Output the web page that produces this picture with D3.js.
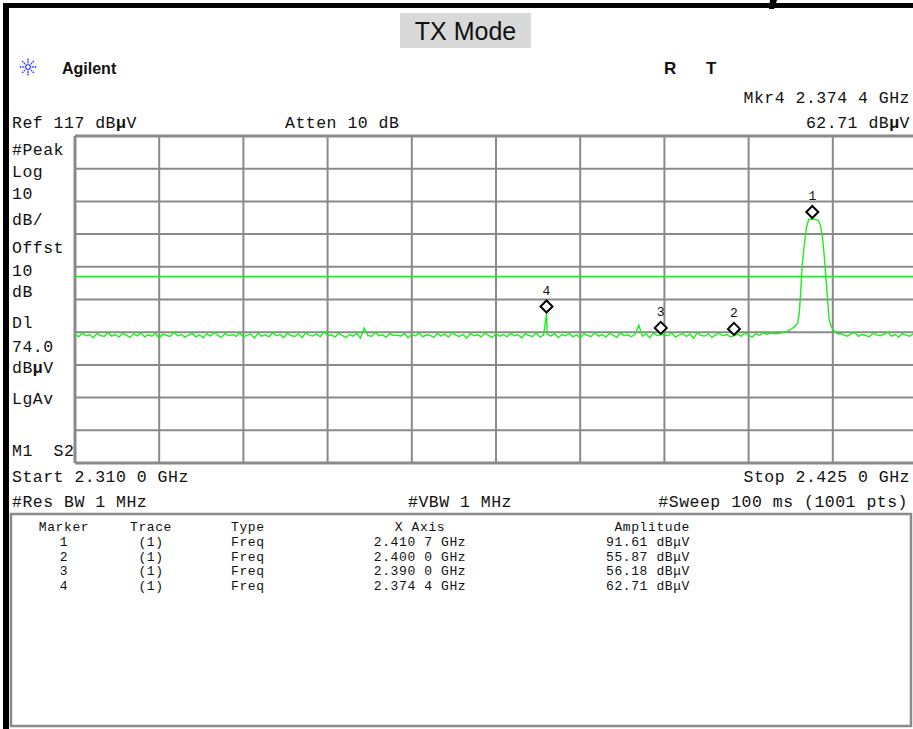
<!DOCTYPE html>
<html>
<head>
<meta charset="utf-8">
<script src="https://cdn.jsdelivr.net/npm/d3@7"></script>
<style>
  body { margin: 0; background: #fff; }
  svg { display: block; }
  .mono { font-family: "Liberation Mono", "DejaVu Sans Mono", monospace; font-size: 16.5px; letter-spacing: 0.5px; fill: #111; }
  .tbl { font-family: "Liberation Mono", "DejaVu Sans Mono", monospace; font-size: 13px; letter-spacing: 0.6px; fill: #111; }
  .sans { font-family: "Liberation Sans", Arial, sans-serif; fill: #111; }
</style>
</head>
<body>
<div id="container"></div>
<script>
// sweep settings
const startGHz = 2.310;
const stopGHz = 2.425;
const refLevel = 117;
const dbPerDiv = 10;
const displayLine = 74.0;

// noise floor, evenly spaced every 0.5 MHz from start to stop (231 pts)
const noiseDb = [
  56.4, 55.6, 56.8, 55.9, 56.2, 55.3, 56.6, 56.0, 55.7, 56.9, 55.8, 56.3, 55.5, 56.7, 56.1, 55.4, 56.5, 55.9, 56.8, 55.6,
  56.2, 55.8, 56.6, 55.2, 56.4, 56.0, 55.7, 57.0, 55.9, 56.3, 55.5, 56.1, 56.7, 55.6, 56.2, 55.3, 56.5, 55.8, 56.9, 56.0,
  55.4, 56.6, 55.9, 56.3, 55.7, 56.8, 55.5, 56.1, 56.4, 55.2, 56.7, 55.8, 56.2, 55.6, 56.9, 55.9, 56.3, 55.4, 56.6, 56.0,
  55.7, 56.5, 55.3, 56.8, 56.1, 55.8, 56.4, 55.6, 57.1, 55.9, 56.2, 55.5, 56.7, 56.0, 55.4, 56.3, 55.8, 56.6, 55.2, 58.3,
  56.0, 55.7, 56.9, 55.9, 56.2, 55.5, 56.5, 56.0, 56.1, 55.8, 56.6, 55.3, 56.3, 55.9, 56.8, 55.6, 56.2, 56.0, 55.4, 56.7,
  55.8, 56.4, 55.5, 56.9, 56.1, 55.7, 56.3, 55.2, 56.6, 55.9, 56.2, 55.6, 56.8, 56.0, 55.4, 56.5, 55.8, 56.3, 55.6, 56.7,
  55.9, 56.2, 55.3, 56.6, 56.0, 55.7, 56.8, 55.5, 56.1, 56.4, 55.8, 56.6, 55.4, 56.3, 55.9, 56.7, 55.6, 56.2, 55.3, 56.5,
  56.0, 55.7, 56.9, 55.8, 56.3, 55.5, 56.6, 56.1, 55.4, 56.8, 55.9, 56.2, 55.6, 56.4, 59.2, 55.8, 56.5, 55.3, 56.7, 56.0,
  56.18, 56.3, 55.9, 56.8, 55.5, 56.1, 56.6, 55.7, 56.4, 55.2, 56.9, 56.0, 55.8, 56.5, 55.4, 56.2, 56.7, 55.9, 56.3, 55.6,
  55.87, 56.4, 55.7, 56.8, 56.1, 55.5, 56.6, 56.0, 56.9, 56.3, 56.7, 56.5, 57.0, 57.3, 57.8, 58.4, 58.9, 59.6, 61.0, 68.0,
  88.0, 91.5, 91.5, 90.8, 86.0, 70.0, 60.5, 58.6, 57.1, 56.6, 56.2, 55.8, 56.5, 56.9, 55.7, 56.3, 56.0, 55.6, 56.7, 56.2,
  55.9, 56.4, 57.0, 55.8, 56.3, 55.5, 56.6, 56.1, 55.8, 56.5, 56.2
];

// carrier read at finer resolution
const carrierFreq = [2.4060, 2.4066, 2.4072, 2.4078, 2.4083, 2.4087, 2.4089, 2.4091, 2.4093, 2.4096, 2.4099, 2.4102,
  2.4107, 2.4111, 2.4115, 2.4118, 2.4121, 2.4124, 2.4127, 2.4130, 2.4133, 2.4138, 2.4143];
const carrierDb = [56.6, 56.9, 57.2, 57.9, 58.7, 59.8, 62.5, 68.5, 77.0, 83.5, 89.0, 91.4,
  91.61, 91.5, 91.3, 89.8, 86.0, 78.5, 69.5, 60.8, 58.6, 57.1, 56.4];

// narrow spur at marker 4
const spurFreq = [2.3744];
const spurDb = [62.71];

// markers
const markerIds = [1, 2, 3, 4];
const markerFreq = [2.4107, 2.4000, 2.3900, 2.3744];
const markerAmp = [91.61, 55.87, 56.18, 62.71];

const leftLabels = [
  ["#Peak", 149], ["Log", 171], ["10", 193], ["dB/", 219], ["Offst", 247], ["10", 270], ["dB", 291],
  ["Dl", 322], ["74.0", 346], ["dBμV", 367], ["LgAv", 398], ["M1  S2", 450]
];

const W = 913, H = 729;
const svg = d3.select("#container").append("svg").attr("width", W).attr("height", H);

const x = d3.scaleLinear().domain([startGHz, stopGHz]).range([75, 917]);
const y = d3.scaleLinear().domain([refLevel - 10 * dbPerDiv, refLevel]).range([463, 136]);

// black frame
svg.append("rect").attr("x", 3).attr("y", 3).attr("width", W - 3).attr("height", 5).attr("fill", "#000");
svg.append("rect").attr("x", 3).attr("y", 3).attr("width", 6).attr("height", H - 3).attr("fill", "#000");
// bit of the page text above the frame
svg.append("path").attr("d", "M770,0L777,0L774,9L769,9Z").attr("fill", "#000");

// title
svg.append("rect").attr("x", 400).attr("y", 13).attr("width", 131).attr("height", 35).attr("fill", "#d9d9d9");
svg.append("text").attr("class", "sans").attr("x", 465.5).attr("y", 40).attr("text-anchor", "middle")
  .attr("font-size", 25).text("TX Mode");

// agilent logo
const logo = svg.append("g").attr("transform", "translate(28,67)");
d3.range(8).forEach((k) => {
  const a = (k * Math.PI) / 4;
  [2.5, 5, 7.5].forEach((r) => {
    logo.append("circle").attr("cx", r * Math.cos(a)).attr("cy", r * Math.sin(a))
      .attr("r", 0.9).attr("fill", "#3a48ff");
  });
});
svg.append("text").attr("class", "sans").attr("x", 62).attr("y", 74)
  .attr("font-size", 16).attr("font-weight", "bold").text("Agilent");
svg.append("text").attr("class", "sans").attr("x", 664).attr("y", 74)
  .attr("font-size", 17).attr("font-weight", "bold").text("R");
svg.append("text").attr("class", "sans").attr("x", 706).attr("y", 74)
  .attr("font-size", 17).attr("font-weight", "bold").text("T");

function dbuv(sel, prefix) {
  sel.append("tspan").text(prefix + "dB");
  sel.append("tspan").attr("font-weight", "bold").text("μ");
  sel.append("tspan").text("V");
}

// header texts
const fmtF = (f) => { const s = f.toFixed(4); return s.slice(0, -1) + " " + s.slice(-1); };
svg.append("text").attr("class", "mono").attr("x", 910).attr("y", 103).attr("text-anchor", "end")
  .text("Mkr4  " + fmtF(markerFreq[3]) + " GHz");
dbuv(svg.append("text").attr("class", "mono").attr("x", 910).attr("y", 128).attr("text-anchor", "end"),
  markerAmp[3].toFixed(2) + " ");
dbuv(svg.append("text").attr("class", "mono").attr("x", 12).attr("y", 128), "Ref " + refLevel + " ");
svg.append("text").attr("class", "mono").attr("x", 285).attr("y", 128).text("Atten 10 dB");

// left panel labels
leftLabels.forEach(([t, cy]) => {
  const el = svg.append("text").attr("class", "mono").attr("x", 12).attr("y", cy + 6);
  if (t === "dBμV") dbuv(el, ""); else el.attr("xml:space", "preserve").text(t);
});

// graticule
const grid = svg.append("g");
const xt = d3.range(11).map((i) => startGHz + (i * (stopGHz - startGHz)) / 10);
const yt = d3.range(11).map((i) => refLevel - i * dbPerDiv);
grid.selectAll(".v").data(xt).enter().append("line")
  .attr("x1", (d) => x(d)).attr("x2", (d) => x(d)).attr("y1", y.range()[1]).attr("y2", y.range()[0])
  .attr("stroke", "#8a8a8a").attr("stroke-width", (d, i) => (i === 0 ? 3 : 2));
grid.selectAll(".h").data(yt).enter().append("line")
  .attr("x1", x.range()[0]).attr("x2", W).attr("y1", (d) => y(d)).attr("y2", (d) => y(d))
  .attr("stroke", "#8a8a8a").attr("stroke-width", (d, i) => (i === 0 || i === 10 ? 3 : 2));

// display line
svg.append("line").attr("x1", x.range()[0]).attr("x2", W)
  .attr("y1", y(displayLine)).attr("y2", y(displayLine))
  .attr("stroke", "#1cf01c").attr("stroke-width", 1.6);

// trace
const noisePts = noiseDb.map((v, i) => [startGHz + i * 0.0005, v])
  .filter((p) => p[0] < carrierFreq[0] - 1e-9 || p[0] > carrierFreq[carrierFreq.length - 1] + 1e-9);
const pts = noisePts
  .concat(carrierFreq.map((f, i) => [f, carrierDb[i]]))
  .concat(spurFreq.map((f, i) => [f, spurDb[i]]))
  .sort((a, b) => a[0] - b[0]);
svg.append("path").datum(pts)
  .attr("d", d3.line().x((d) => x(d[0])).y((d) => y(d[1])))
  .attr("fill", "none").attr("stroke", "#1cf01c").attr("stroke-width", 1.4);

// markers
const mk = svg.selectAll(".mk").data(markerIds).enter().append("g")
  .attr("transform", (d, i) => `translate(${x(markerFreq[i])},${y(markerAmp[i]) - 7})`);
mk.append("path").attr("d", "M0,-6L6,0L0,6L-6,0Z")
  .attr("fill", "#fff").attr("stroke", "#000").attr("stroke-width", 2);
mk.append("text").attr("class", "tbl").attr("y", -12).attr("text-anchor", "middle")
  .style("letter-spacing", "0px").text((d) => d);

// bottom annotations
svg.append("text").attr("class", "mono").attr("x", 12).attr("y", 482).text("Start " + fmtF(startGHz) + " GHz");
svg.append("text").attr("class", "mono").attr("x", 910).attr("y", 482).attr("text-anchor", "end")
  .text("Stop " + fmtF(stopGHz) + " GHz");
svg.append("text").attr("class", "mono").attr("x", 12).attr("y", 507).text("#Res BW 1 MHz");
svg.append("text").attr("class", "mono").attr("x", 408).attr("y", 507).text("#VBW 1 MHz");
svg.append("text").attr("class", "mono").attr("x", 908).attr("y", 507).attr("text-anchor", "end")
  .text("#Sweep 100 ms (1001 pts)");

// marker table
svg.append("rect").attr("x", 11).attr("y", 514).attr("width", 900).attr("height", 212)
  .attr("fill", "none").attr("stroke", "#8a8a8a").attr("stroke-width", 2.5);
const cols = [
  { h: "Marker", x: 64, a: "middle", v: (i) => markerIds[i] },
  { h: "Trace", x: 151, a: "middle", v: () => "(1)" },
  { h: "Type", x: 231, a: "start", v: () => "Freq" },
  { h: "X Axis", x: 420, a: "middle", v: (i) => fmtF(markerFreq[i]) + " GHz" },
  { h: "Amplitude", x: 690, a: "end", v: (i) => markerAmp[i].toFixed(2) + " dBμV" }
];
cols.forEach((c) => {
  svg.append("text").attr("class", "tbl").attr("x", c.x).attr("y", 531).attr("text-anchor", c.a).text(c.h);
  markerIds.forEach((m, i) => {
    svg.append("text").attr("class", "tbl").attr("x", c.x)
      .attr("y", 546 + i * 14.6).attr("text-anchor", c.a).text(c.v(i));
  });
});
</script>
</body>
</html>
